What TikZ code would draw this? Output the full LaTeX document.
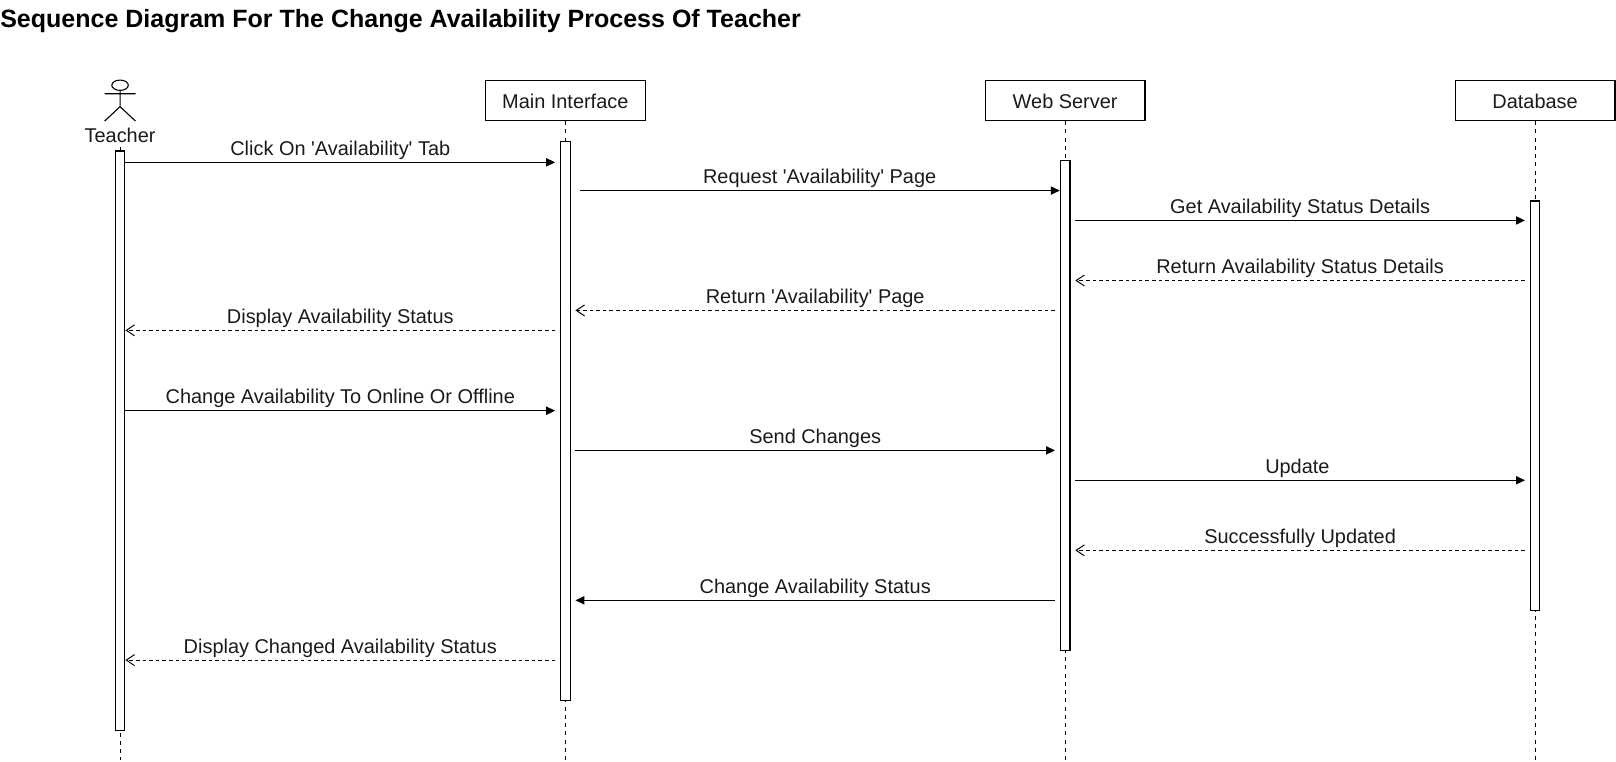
\documentclass[tikz,border=0pt]{standalone}
\usepackage{fontspec}
\setmainfont{Liberation Sans}
\usetikzlibrary{arrows.meta,calc}
\definecolor{ink}{HTML}{1A1A1A}
\newcommand{\ap}{\textquotesingle}
\newcommand{\headlabel}[1]{\raisebox{-6pt}[0pt][0pt]{#1}}
\tikzset{
  x=0.75pt,y=-0.75pt,
  every node/.style={font=\fontsize{14.5}{17}\selectfont,text=ink},
  head/.style={draw=black,line width=0.8pt,fill=white,minimum width=116.25pt,minimum height=29.25pt,inner sep=0pt},
  act/.style={draw=black,line width=0.8pt,fill=white,minimum width=7pt,inner sep=0pt,anchor=north},
  life/.style={draw=black,line width=0.7pt,dash pattern=on 3pt off 3pt},
  sync/.style={draw=black,line width=0.8pt,-{Triangle[length=6.5pt,width=6pt]}},
  reply/.style={draw=black,line width=0.7pt,dash pattern=on 2.6pt off 2.2pt,-{Straight Barb[length=6pt,width=8pt]}},
  lab/.style={midway,above,inner sep=0pt,yshift=1.7pt},
  actor/.style={draw=black,line width=0.8pt}
}
\begin{document}
\begin{tikzpicture}
\useasboundingbox (0,0) rectangle (1568,738.4);
\node[anchor=base west,inner sep=0pt,font=\fontsize{18.2}{22}\selectfont\bfseries,text=black] (title) at (0,26.5) {Sequence Diagram For The Change Availability Process Of Teacher};

% headers
\node[head] (hM) at (548.5,97.5) {\headlabel{Main Interface}};
\node[head] (hW) at (1033.5,97.5) {\headlabel{Web Server}};
\node[head] (hD) at (1489.5,97.5) {\headlabel{Database}};
\node (hT) at (116.5,131) {Teacher};

% lifeline ends
\coordinate (eT) at (116.5,737);
\coordinate (eM) at (548.5,737);
\coordinate (eW) at (1033.5,737);
\coordinate (eD) at (1489.5,737);

\draw[life] (hT) -- (eT);
\draw[life] (hM) -- (eM);
\draw[life] (hW) -- (eW);
\draw[life] (hD) -- (eD);

% actor
\draw[actor] (116.5,82.7) ellipse (8 and 5);
\draw[actor] (116.5,87.7) -- (116.5,103.5)
  (101.5,91) -- (131.5,91)
  (101.5,117.5) -- (116.5,103.5) -- (131.5,117.5);

% activations
\node[act,minimum height=421.5pt] (aT) at (116.5,146) {};
\node[act,minimum height=406.9pt] (aM) at (548.5,136.5) {};
\node[act,minimum height=356.6pt] (aW) at (1033.5,155.5) {};
\node[act,minimum height=298.1pt] (aD) at (1489.5,194.5) {};

% messages
\draw[sync] (aT.east |- 0,157.5) -- ([xshift=-3.5pt]aM.west |- 0,157.5) node[lab] {Click On \ap Availability\ap{} Tab};
\draw[sync] ([xshift=6.5pt]aM.east |- 0,184.9) -- (aW.west |- 0,184.9) node[lab] {Request \ap Availability\ap{} Page};
\draw[sync] ([xshift=3.5pt]aW.east |- 0,213.9) -- ([xshift=-3.5pt]aD.west |- 0,213.9) node[lab] {Get Availability Status Details};
\draw[reply] ([xshift=-3.5pt]aD.west |- 0,272.2) -- ([xshift=3.5pt]aW.east |- 0,272.2) node[lab] {Return Availability Status Details};
\draw[reply] ([xshift=-3.5pt]aW.west |- 0,301.2) -- ([xshift=3.5pt]aM.east |- 0,301.2) node[lab] {Return \ap Availability\ap{} Page};
\draw[reply] ([xshift=-3.5pt]aM.west |- 0,320.5) -- (aT.east |- 0,320.5) node[lab] {Display Availability Status};
\draw[sync] (aT.east |- 0,398.5) -- ([xshift=-3.5pt]aM.west |- 0,398.5) node[lab] {Change Availability To Online Or Offline};
\draw[sync] ([xshift=3.5pt]aM.east |- 0,437) -- ([xshift=-3.5pt]aW.west |- 0,437) node[lab] {Send Changes};
\draw[sync] ([xshift=3.5pt]aW.east |- 0,466) -- ([xshift=-3.5pt]aD.west |- 0,466) node[lab,xshift=-2pt] {Update};
\draw[reply] ([xshift=-3.5pt]aD.west |- 0,534) -- ([xshift=3.5pt]aW.east |- 0,534) node[lab] {Successfully Updated};
\draw[sync] ([xshift=-3.5pt]aW.west |- 0,582.5) -- ([xshift=3.5pt]aM.east |- 0,582.5) node[lab] {Change Availability Status};
\draw[reply] ([xshift=-3.5pt]aM.west |- 0,640.5) -- (aT.east |- 0,640.5) node[lab] {Display Changed Availability Status};
\end{tikzpicture}
\end{document}
